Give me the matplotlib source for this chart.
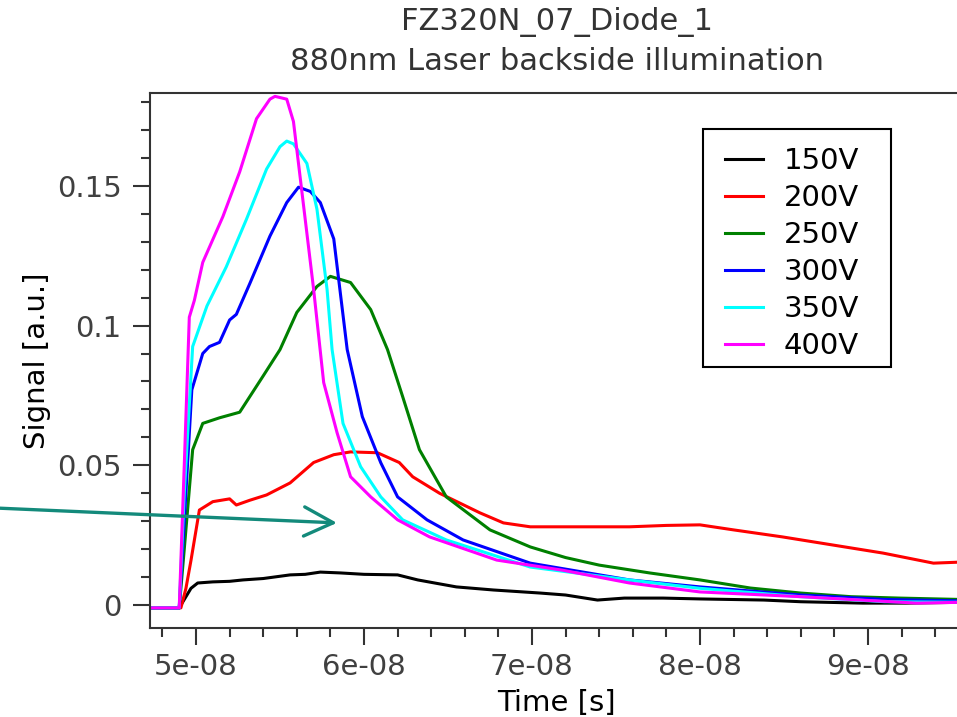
import matplotlib
matplotlib.use("Agg")
import matplotlib.pyplot as plt
from matplotlib.patches import Rectangle
from matplotlib.ticker import MultipleLocator, FuncFormatter

# time in ns, signal in a.u.
t_150 = [47.3, 49.0, 49.3, 49.7, 50.1, 51.0, 52.0, 52.8, 54.0, 55.6, 56.5, 57.4, 58.6, 60.0, 62.0,
         63.2, 64.3, 65.5, 67.7, 70.5, 72.0, 73.9, 75.5, 77.8, 80.0, 83.8, 86.0, 89.7, 92.3, 95.6]
s_150 = [-0.001, -0.001, 0.002, 0.006, 0.0079, 0.0083, 0.0085, 0.009, 0.0095, 0.0108, 0.011, 0.0118,
         0.0115, 0.011, 0.0108, 0.009, 0.0078, 0.0065, 0.0054, 0.0043, 0.0036, 0.0018, 0.0025, 0.0025,
         0.0022, 0.0018, 0.0012, 0.0007, 0.0007, 0.001]

t_200 = [47.3, 49.1, 49.4, 49.7, 50.2, 51.0, 52.0, 52.4, 53.2, 54.2, 55.6, 57.0, 58.2, 59.2, 60.8,
         62.1, 62.9, 64.5, 66.9, 68.3, 69.9, 72.0, 75.8, 78.0, 80.0, 82.0, 84.9, 87.9, 90.9, 93.9, 95.6]
s_200 = [-0.001, -0.001, 0.006, 0.016, 0.034, 0.037, 0.038, 0.0358, 0.0375, 0.0394, 0.0437, 0.051,
         0.0538, 0.0548, 0.0545, 0.051, 0.0459, 0.040, 0.033, 0.0294, 0.028, 0.028, 0.028, 0.0285,
         0.0287, 0.0269, 0.0244, 0.0215, 0.0186, 0.015, 0.0154]

t_250 = [47.3, 49.0, 49.3, 49.8, 50.4, 51.4, 52.6, 54.0, 55.0, 56.0, 57.2, 58.0, 59.2, 60.4, 61.4,
         62.3, 63.3, 64.9, 67.5, 69.9, 72.0, 74.0, 77.0, 80.0, 83.0, 86.0, 89.0, 91.9, 95.6]
s_250 = [-0.001, -0.001, 0.02, 0.0556, 0.065, 0.067, 0.069, 0.082, 0.0914, 0.1047, 0.114, 0.1176,
         0.1154, 0.1057, 0.0914, 0.0746, 0.0556, 0.0387, 0.0269, 0.0208, 0.017, 0.0143, 0.0115, 0.009,
         0.0061, 0.0043, 0.003, 0.0025, 0.002]

t_300 = [47.3, 49.0, 49.3, 49.75, 50.4, 50.8, 51.4, 52.0, 52.4, 53.2, 54.4, 55.4, 56.1, 56.8, 57.4,
         58.2, 59.0, 59.9, 61.0, 62.0, 63.75, 65.9, 69.9, 75.8, 80.0, 86.0, 91.0, 95.6]
s_300 = [-0.001, -0.001, 0.03, 0.077, 0.090, 0.0925, 0.094, 0.102, 0.104, 0.115, 0.132, 0.144,
         0.1495, 0.148, 0.144, 0.131, 0.0914, 0.0674, 0.0509, 0.0387, 0.0305, 0.0233, 0.015, 0.009,
         0.0065, 0.0036, 0.002, 0.0015]

t_350 = [47.3, 49.0, 49.3, 49.8, 50.65, 51.8, 53.0, 54.2, 55.0, 55.4, 55.8, 56.6, 57.2, 57.8, 58.1,
         58.75, 59.8, 61.0, 62.3, 64.9, 69.9, 75.8, 80.0, 86.0, 91.0, 95.6]
s_350 = [-0.001, -0.001, 0.04, 0.0925, 0.107, 0.121, 0.138, 0.156, 0.164, 0.166, 0.165, 0.158,
         0.1416, 0.113, 0.0914, 0.065, 0.0495, 0.0387, 0.0305, 0.0233, 0.0136, 0.009, 0.006, 0.003,
         0.0012, 0.001]

t_400 = [47.3, 49.0, 49.3, 49.6, 49.9, 50.4, 51.6, 52.6, 53.6, 54.4, 54.7, 55.4, 55.8, 56.4, 57.0,
         57.6, 58.4, 59.2, 60.4, 62.0, 63.9, 67.9, 71.8, 75.8, 80.0, 86.0, 92.9, 95.6]
s_400 = [-0.001, -0.001, 0.05, 0.103, 0.109, 0.1226, 0.139, 0.155, 0.174, 0.181, 0.182, 0.181,
         0.173, 0.143, 0.113, 0.0796, 0.0616, 0.0459, 0.0387, 0.0305, 0.0244, 0.0161, 0.0125, 0.0079,
         0.0047, 0.003, 0.0007, 0.001]

labels = ["150V", "200V", "250V", "300V", "350V", "400V"]
colors = ["black", "red", "green", "blue", "cyan", "magenta"]
series = [(t_150, s_150), (t_200, s_200), (t_250, s_250),
          (t_300, s_300), (t_350, s_350), (t_400, s_400)]


def main():
    fig = plt.figure(figsize=(9.57, 7.17), dpi=100)
    ax = fig.add_axes([150 / 957, 89 / 717, 812 / 957, 535 / 717])

    for (t, s), lab, c in zip(series, labels, colors):
        ax.plot([v * 1e-9 for v in t], s, color=c, lw=2.2, label=lab)

    ax.set_xlim(4.726e-8, 9.56e-8)
    ax.set_ylim(-0.0082, 0.1832)

    ax.xaxis.set_major_locator(MultipleLocator(1e-8))
    ax.xaxis.set_minor_locator(MultipleLocator(2e-9))
    ax.yaxis.set_major_locator(MultipleLocator(0.05))
    ax.yaxis.set_minor_locator(MultipleLocator(0.01))
    ax.xaxis.set_major_formatter(FuncFormatter(lambda v, p: f"{v:.0e}"))
    ax.yaxis.set_major_formatter(FuncFormatter(lambda v, p: f"{v:g}" if abs(v) > 1e-12 else "0"))

    ax.tick_params(which="both", direction="out", width=1.5, color="#333333",
                   labelsize=21, labelcolor="#404040", top=False, right=False)
    ax.tick_params(which="major", length=12)
    ax.tick_params(which="minor", length=6.5)
    ax.tick_params(axis="x", which="major", pad=6)
    ax.tick_params(axis="y", which="major", pad=8.5)
    for sp in ax.spines.values():
        sp.set_linewidth(1.5)
        sp.set_color("#333333")

    ax.set_ylabel("Signal [a.u.]", fontsize=21, labelpad=4)
    ax.set_xlabel("Time [s]", fontsize=21, labelpad=6)

    fig.text(557 / 957, 1 - 22 / 717, "FZ320N_07_Diode_1", ha="center", va="center",
             fontsize=22, color="#333333")
    fig.text(557 / 957, 1 - 62 / 717, "880nm Laser backside illumination", ha="center",
             va="center", fontsize=22, color="#333333")

    # legend box drawn separately so the padding matches the original
    ax.add_patch(Rectangle((0.681, 0.488), 0.2315, 0.4449, transform=ax.transAxes,
                           facecolor="white", edgecolor="black", lw=1.5, zorder=4))
    leg = ax.legend(loc="upper left", bbox_to_anchor=(0.708, 0.8994), borderaxespad=0,
                    fontsize=21, frameon=False, handlelength=1.32, handletextpad=0.7,
                    labelspacing=0.31, borderpad=0)
    leg.set_zorder(5)

    ax.annotate("", xy=(5.839e-8, 0.0294), xycoords="data",
                xytext=(-0.005, 1 - 508 / 717), textcoords="figure fraction",
                arrowprops=dict(arrowstyle="->,head_length=0.7,head_width=0.35",
                                color="#138a7b", lw=2.4, mutation_scale=30,
                                shrinkA=0, shrinkB=0),
                annotation_clip=False)

    fig.savefig("out.png", dpi=100)


if __name__ == "__main__":
    main()
